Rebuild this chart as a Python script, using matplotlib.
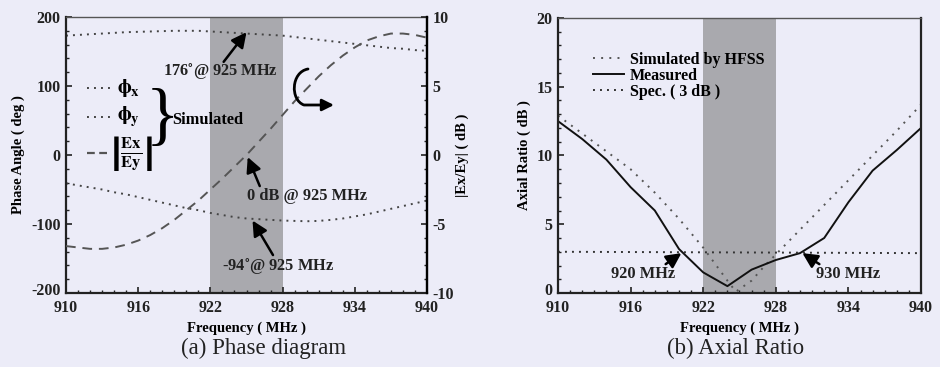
import numpy as np
import matplotlib
matplotlib.use('Agg')
import matplotlib.pyplot as plt
import matplotlib.transforms as mtransforms
from matplotlib.path import Path
from matplotlib.patches import FancyArrowPatch

# ---- data ----
freq = [910, 911, 912, 913, 914, 915, 916, 917, 918, 919, 920, 921, 922, 923, 924, 925,
        926, 927, 928, 929, 930, 931, 932, 933, 934, 935, 936, 937, 938, 939, 940]
phi_x = [173, 174, 175, 176, 177, 178, 178.5, 179, 179.5, 180, 180, 180, 179, 178, 177, 176,
         175, 174, 173, 171, 169, 167, 165, 163, 161, 159, 157, 155, 154, 152, 151]
phi_y = [-41, -44, -47, -50, -54, -57, -61, -65, -69, -73, -77, -80, -84, -87, -90, -92,
         -93, -94, -95, -95.5, -96, -95.5, -94, -92, -89, -86, -82, -78, -74, -70, -66]
ex_ey_db = [-6.6, -6.7, -6.8, -6.8, -6.7, -6.5, -6.2, -5.8, -5.3, -4.7, -4.0, -3.3, -2.5, -1.7, -0.85, 0.0,
            0.95, 1.9, 2.9, 3.9, 4.8, 5.7, 6.5, 7.2, 7.8, 8.3, 8.6, 8.8, 8.8, 8.7, 8.5]

ar_freq = [910, 912, 914, 916, 918, 920, 922, 924, 926, 928, 930, 932, 934, 936, 938, 940]
ar_meas = [12.5, 11.2, 9.7, 7.7, 6.0, 3.2, 1.5, 0.5, 1.7, 2.4, 2.9, 4.0, 6.6, 8.9, 10.4, 12.0]
sim_freq = [910, 912, 914, 916, 918, 920, 922, 923, 924, 924.7, 926, 927, 928, 930, 932, 934, 936, 938, 940]
ar_sim = [12.9, 11.6, 10.3, 9.0, 7.3, 5.4, 3.3, 2.1, 0.9, 0.1, 0.9, 1.9, 2.8, 4.6, 6.4, 8.2, 10.0, 11.8, 13.7]
spec_freq = [910, 940]
spec_ar = [3.0, 2.9]

band = [922, 928]
xticks = [910, 916, 922, 928, 934, 940]

bg = '#ECECF8'
shade = '#A9A9AE'
ink = '#222222'

plt.rcParams['font.family'] = ['Liberation Serif', 'DejaVu Serif']
plt.rcParams['font.weight'] = 'bold'
plt.rcParams['mathtext.fontset'] = 'stix'
plt.rcParams['axes.unicode_minus'] = False

fig = plt.figure(figsize=(9.4, 3.67), dpi=100, facecolor=bg)
ax1 = fig.add_axes([0.0702, 0.2016, 0.3841, 0.7521], facecolor=bg)
ax2 = fig.add_axes([0.5936, 0.2016, 0.3862, 0.7494], facecolor=bg)

TICK = 11.5
LAB = 10.5


def style(ax, ylim, yticks, yminor):
    ax.set_xlim(910, 940)
    ax.set_ylim(*ylim)
    ax.set_xticks(xticks)
    ax.set_xticks(np.arange(910, 941, 1), minor=True)
    ax.set_yticks(yticks)
    ax.set_yticks(yminor, minor=True)
    ax.tick_params(which='both', direction='in', top=False, right=False, colors=ink,
                   labelsize=TICK)
    ax.tick_params(axis='x', pad=5)
    ax.tick_params(axis='y', pad=4)
    ax.tick_params(which='major', length=4, width=1.2)
    ax.tick_params(which='minor', length=2.5, width=1)
    for s in ['left', 'bottom', 'right']:
        ax.spines[s].set_linewidth(1.6)
        ax.spines[s].set_color(ink)
    ax.spines['top'].set_linewidth(1.0)
    ax.spines['top'].set_color('#555555')
    for lbl in ax.get_xticklabels() + ax.get_yticklabels():
        lbl.set_fontweight('bold')
    # lowest y label sits a touch higher so it clears the first x label
    lowest = ax.get_yticklabels()[0]
    lowest.set_transform(lowest.get_transform() +
                         mtransforms.ScaledTranslation(0, 3 / 72, fig.dpi_scale_trans))
    ax.axvspan(band[0], band[1], color=shade, lw=0, zorder=0)
    ax.set_xlabel('Frequency ( MHz )', fontsize=LAB, fontweight='bold', labelpad=4)


# ---- (a) phase diagram ----
style(ax1, (-200, 200), [-200, -100, 0, 100, 200], np.arange(-200, 201, 20))
ax1.set_ylabel('Phase Angle ( deg )', fontsize=LAB, fontweight='bold', labelpad=4)
dot = dict(color='#444444', lw=1.4, ls=(0, (1, 2.6)))
ax1.plot(freq, phi_x, **dot)
ax1.plot(freq, phi_y, **dot)

ax1r = ax1.twinx()
ax1r.set_ylim(-10, 10)
ax1r.set_yticks([-10, -5, 0, 5, 10])
ax1r.set_yticks(np.arange(-10, 10.1, 1), minor=True)
ax1r.tick_params(which='both', direction='in', colors=ink, labelsize=TICK, pad=4)
ax1r.tick_params(which='major', length=4, width=1.2)
ax1r.tick_params(which='minor', length=2.5, width=1)
for lbl in ax1r.get_yticklabels():
    lbl.set_fontweight('bold')
for s in ax1r.spines.values():
    s.set_visible(False)
ax1r.spines['right'].set_visible(True)
ax1r.spines['right'].set_linewidth(1.6)
ax1r.set_ylabel('|Ex/Ey| ( dB )', fontsize=LAB, fontweight='bold', labelpad=1)
ax1r.plot(freq, ex_ey_db, color='#555555', lw=1.4, ls=(0, (5, 3.5)))

ann = dict(fontsize=11.8, fontweight='bold', ha='center', va='center', color=ink)
arw = dict(arrowstyle='-|>,head_length=0.9,head_width=0.45', color='black', lw=1.8,
           shrinkA=0, shrinkB=0)
ax1.annotate('176$^{\\circ}$@ 925 MHz', xy=(922.8, 120), **ann)
ax1.annotate('', xy=(925, 178), xytext=(923.1, 135), arrowprops=arw)
ax1.annotate('0 dB @ 925 MHz', xy=(930.0, -59), **ann)
ax1.annotate('', xy=(925.1, -3), xytext=(926.1, -45), arrowprops=arw)
ax1.annotate('-94$^{\\circ}$@ 925 MHz', xy=(927.6, -163), **ann)
ax1.annotate('', xy=(925.5, -95), xytext=(927.2, -145), arrowprops=arw)

# hand-drawn style legend
tf = ax1.transAxes
ax1.plot([0.058, 0.136], [0.743, 0.743], transform=tf, **dot)
ax1.plot([0.058, 0.136], [0.638, 0.638], transform=tf, **dot)
ax1.plot([0.058, 0.118], [0.507, 0.507], transform=tf, color='#555555', lw=1.6,
         ls=(0, (3.5, 2)))
ax1.text(0.142, 0.743, r'$\mathbf{\phi_x}$', transform=tf, fontsize=15, va='center')
ax1.text(0.142, 0.638, r'$\mathbf{\phi_y}$', transform=tf, fontsize=15, va='center')
ax1.text(0.122, 0.507, r'$\left|\frac{\mathbf{Ex}}{\mathbf{Ey}}\right|$', transform=tf,
         fontsize=17, va='center')
ax1.text(0.222, 0.625, '}', transform=tf, fontsize=50, fontweight='normal', va='center',
         ha='left')
ax1.text(0.295, 0.627, 'Simulated', transform=tf, fontsize=11.8, fontweight='bold',
         va='center')

# curved arrow pointing at the right axis
hook = Path([(308, 69), (291, 72), (290, 100), (304, 105), (334, 105)],
            [Path.MOVETO, Path.CURVE4, Path.CURVE4, Path.CURVE4, Path.LINETO])
hook = Path(np.column_stack([hook.vertices[:, 0] / 940.0, 1 - hook.vertices[:, 1] / 367.0]),
            hook.codes)
fig.add_artist(FancyArrowPatch(path=hook, transform=fig.transFigure,
                               arrowstyle='-|>,head_length=7,head_width=3.5',
                               color='black', lw=2.0))

# ---- (b) axial ratio ----
style(ax2, (0, 20), [0, 5, 10, 15, 20], np.arange(0, 20.1, 1))
ax2.set_ylabel('Axial Ratio ( dB )', fontsize=LAB, fontweight='bold', labelpad=4)
ax2.plot(sim_freq, ar_sim, color='#555555', lw=1.4, ls=(0, (1, 3.2)),
         label='Simulated by HFSS')
ax2.plot(ar_freq, ar_meas, color='#111111', lw=1.4, label='Measured')
ax2.plot(spec_freq, spec_ar, color='#333333', lw=1.4, ls=(0, (1, 2.6)),
         label='Spec. ( 3 dB )')
leg = ax2.legend(loc='upper left', bbox_to_anchor=(0.08, 0.9), frameon=False,
                 fontsize=11.5, handlelength=1.9, handletextpad=0.4, labelspacing=0.0,
                 borderaxespad=0)
for t in leg.get_texts():
    t.set_fontweight('bold')
ax2.annotate('920 MHz', xy=(917.0, 1.4), **ann)
ax2.annotate('', xy=(920.2, 2.9), xytext=(918.9, 2.1), arrowprops=arw)
ax2.annotate('930 MHz', xy=(934.0, 1.4), **ann)
ax2.annotate('', xy=(930.2, 2.9), xytext=(931.6, 2.1), arrowprops=arw)

# captions
fig.text(0.28, 0.05, '(a) Phase diagram', fontsize=16.5, fontweight='normal',
         ha='center', va='center', color=ink)
fig.text(0.782, 0.05, '(b) Axial Ratio', fontsize=16.5, fontweight='normal',
         ha='center', va='center', color=ink)

fig.savefig('out.png', dpi=100, facecolor=bg)
